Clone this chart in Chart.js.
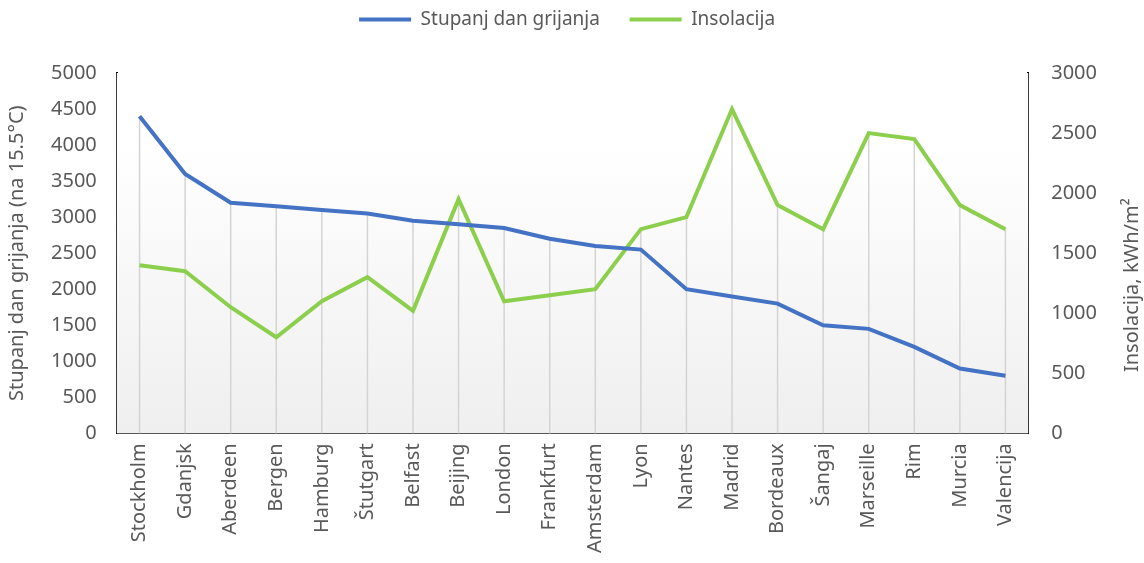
<!DOCTYPE html>
<html lang="hr">
<head>
<meta charset="UTF-8">
<title>Stupanj dan grijanja i insolacija</title>
<script src="https://cdn.jsdelivr.net/npm/chart.js"></script>
<style>
  body { margin: 0; background: #fff; overflow: hidden; }
  #wrap { width: 1144px; height: 563px; }
</style>
</head>
<body>
<div id="wrap"><canvas id="chart" width="1144" height="563"></canvas></div>
<script>
// podaci
const cities = ["Stockholm", "Gdanjsk", "Aberdeen", "Bergen", "Hamburg", "Štutgart", "Belfast", "Beijing", "London", "Frankfurt",
  "Amsterdam", "Lyon", "Nantes", "Madrid", "Bordeaux", "Šangaj", "Marseille", "Rim", "Murcia", "Valencija"];
const degreeDays = [4400, 3600, 3200, 3150, 3100, 3050, 2950, 2900, 2850, 2700,
  2600, 2550, 2000, 1900, 1800, 1500, 1450, 1200, 900, 800];
const insolation = [1400, 1350, 1050, 800, 1100, 1300, 1020, 1950, 1100, 1150,
  1200, 1700, 1800, 2700, 1900, 1700, 2500, 2450, 1900, 1700];

const textGray = "#595959";
const font = "'Noto Sans', 'Open Sans', sans-serif";
const rightTitle = "Insolacija, kWh/m²";
const legendPad = ["    ", "   "];

// razmak ispod legende
const legendGap = {
  id: "legendGap",
  beforeInit(chart) {
    const fit = chart.legend.fit;
    chart.legend.fit = function () {
      fit.bind(chart.legend)();
      this.height += 34;
    };
  }
};

// pozadina plohe (blagi gradijent) i okomite linije do najviše točke
const plotDecor = {
  id: "plotDecor",
  beforeDatasetsDraw(chart) {
    const { ctx, chartArea: a, scales } = chart;
    ctx.save();
    const g = ctx.createLinearGradient(0, a.top, 0, a.bottom);
    g.addColorStop(0, "#ffffff");
    g.addColorStop(0.2, "#ffffff");
    g.addColorStop(1, "#efefef");
    ctx.fillStyle = g;
    ctx.fillRect(a.left, a.top, a.right - a.left, a.bottom - a.top);

    ctx.strokeStyle = "#d4d4d4";
    ctx.lineWidth = 1.5;
    cities.forEach((c, i) => {
      const x = scales.x.getPixelForValue(i);
      const y = Math.min(scales.y.getPixelForValue(degreeDays[i]), scales.y2.getPixelForValue(insolation[i]));
      ctx.beginPath();
      ctx.moveTo(x, y);
      ctx.lineTo(x, a.bottom);
      ctx.stroke();
    });
    ctx.restore();
  },
  afterDraw(chart) {
    // naslov desne osi, čita se odozdo prema gore
    const { ctx, chartArea: a, scales } = chart;
    ctx.save();
    ctx.translate(scales.y2.right - 12, (a.top + a.bottom) / 2 + 32);
    ctx.rotate(-Math.PI / 2);
    ctx.fillStyle = textGray;
    ctx.font = "20px " + font;
    ctx.textAlign = "center";
    ctx.textBaseline = "middle";
    ctx.fillText(rightTitle, 0, 0);
    ctx.restore();
  }
};

new Chart(document.getElementById("chart"), {
  type: "line",
  data: {
    labels: cities,
    datasets: [
      { label: "Stupanj dan grijanja", data: degreeDays, yAxisID: "y",
        borderColor: "#4472c4", backgroundColor: "#4472c4", borderWidth: 4, pointRadius: 0, tension: 0 },
      { label: "Insolacija", data: insolation, yAxisID: "y2",
        borderColor: "#8ccf4d", backgroundColor: "#8ccf4d", borderWidth: 4, pointRadius: 0, tension: 0 }
    ]
  },
  options: {
    responsive: false,
    animation: false,
    layout: { padding: { top: 0, left: 5, right: 0, bottom: 0 } },
    plugins: {
      legend: {
        position: "top",
        labels: {
          color: textGray, font: { family: font, size: 19 },
          boxWidth: 52, boxHeight: 0, padding: 10,
          generateLabels(chart) {
            return chart.data.datasets.map((d, i) => ({
              text: d.label + legendPad[i], strokeStyle: d.borderColor, fillStyle: d.borderColor,
              lineWidth: 4, lineCap: "round", fontColor: textGray, datasetIndex: i
            }));
          }
        }
      },
      tooltip: { enabled: false }
    },
    scales: {
      x: {
        offset: true,
        grid: { display: false, drawTicks: false },
        border: { color: "#000", width: 2 },
        ticks: { color: textGray, font: { family: font, size: 20 }, maxRotation: 90, minRotation: 90, padding: 10, autoSkip: false }
      },
      y: {
        position: "left", min: 0, max: 5000,
        grid: { display: false, drawTicks: false },
        border: { color: "#000", width: 2 },
        ticks: { stepSize: 500, color: textGray, font: { family: font, size: 20 }, padding: 20,
          callback: v => String(v) },
        title: { display: true, text: "Stupanj dan grijanja (na 15.5°C)", color: textGray, font: { family: font, size: 20 }, padding: { top: 0, bottom: 2 } }
      },
      y2: {
        position: "right", min: 0, max: 3000,
        grid: { display: false, drawTicks: false },
        border: { color: "#000", width: 2 },
        ticks: { stepSize: 500, color: textGray, font: { family: font, size: 20 }, padding: 23,
          callback: v => String(v) },
        title: { display: true, text: " ", color: "rgba(0,0,0,0)", font: { family: font, size: 20 }, padding: 0 }
      }
    }
  },
  plugins: [legendGap, plotDecor]
});
</script>
</body>
</html>
